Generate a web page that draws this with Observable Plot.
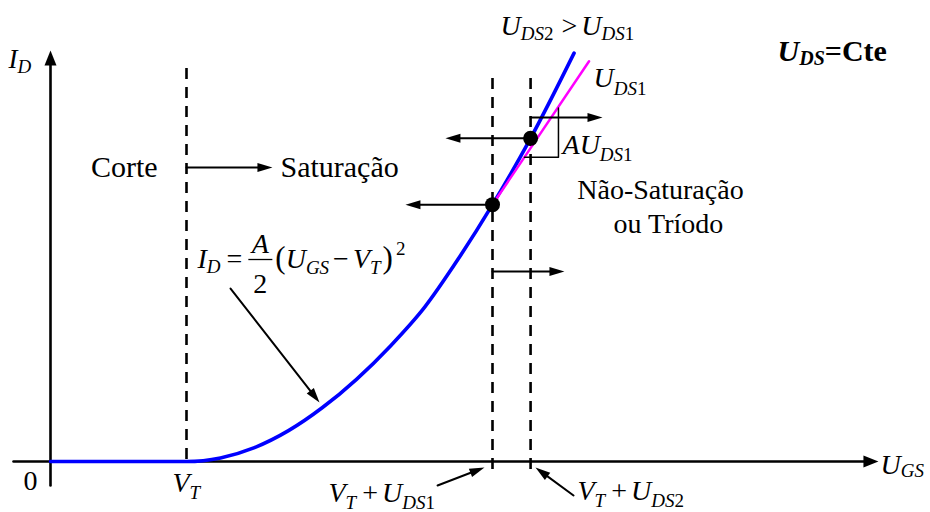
<!DOCTYPE html>
<html>
<head>
<meta charset="utf-8">
<script src="https://cdn.jsdelivr.net/npm/d3@7"></script>
<script src="https://cdn.jsdelivr.net/npm/@observablehq/plot@0.6"></script>
<style>
  html, body { margin: 0; padding: 0; background: #fff; }
</style>
</head>
<body>
<div id="chart"></div>
<script>
// Transfer characteristic of an enhancement MOSFET: I_D as a function of U_GS
// for a constant U_DS. Units are arbitrary (U_GS in multiples of V_T).

// Saturation parabola, continued by the triode line of U_DS2
const curveU = [0, 1.0, 1.25, 1.5, 1.75, 2.0, 2.25, 2.5, 2.75, 3.0, 3.25, 3.53, 3.85];
const curveI = [0, 0, 0.07, 0.27, 0.6, 1.05, 1.6, 2.25, 3.0, 3.95, 5.0, 6.29, 7.95];
// Triode line for U_DS1
const triodeU = [3.25, 3.96];
const triodeI = [5.0, 7.79];
// Saturation / triode boundary points
const pointU = [3.25, 3.53];
const pointI = [5.0, 6.29];
// Region boundaries on the U_GS axis: V_T, V_T+U_DS1, V_T+U_DS2
const boundaryU = [1.0, 3.25, 3.53];
const boundaryTop = [7.65, 7.455, 7.455];
const boundaryBottom = [0, -0.175, -0.175];
// Region names
const regionNames = ["Corte", "Saturação", "Não-Saturação", "ou Tríodo"];

const FONT = '"Liberation Serif", "Times New Roman", Times, serif';
const M = 28, S = 19;

const xScale = {domain: [0, 6], range: [50, 866]};
const yScale = {domain: [0, 8], range: [461, 50]};
let px, py, ix, iy;
try {
  const sx = Plot.scale({x: xScale}), sy = Plot.scale({y: yScale});
  px = v => sx.apply(v); py = v => sy.apply(v);
  ix = v => sx.invert(v); iy = v => sy.invert(v);
} catch (e) {
  const sx = d3.scaleLinear(xScale.domain, xScale.range), sy = d3.scaleLinear(yScale.domain, yScale.range);
  px = sx; py = sy; ix = sx.invert; iy = sy.invert;
}

// Filled arrowheads with the tip at the origin, pointing right
const headBig = {draw(c) { c.moveTo(0, 0); c.lineTo(-15, -6); c.lineTo(-15, 6); c.closePath(); }};
const headSmall = {draw(c) { c.moveTo(0, 0); c.lineTo(-15, -4.5); c.lineTo(-15, 4.5); c.closePath(); }};

const axisArrows = [
  {x1: -0.272, y1: 0, x2: 6.088, y2: 0},
  {x1: 0, y1: -0.467, x2: 0, y2: 8.0}
];
const noteArrows = [
  {x1: 1.0, y1: 5.723, x2: 1.632, y2: 5.723},
  {x1: 3.25, y1: 5.0, x2: 2.61, y2: 5.0},
  {x1: 3.53, y1: 6.29, x2: 2.904, y2: 6.29},
  {x1: 3.53, y1: 6.696, x2: 4.059, y2: 6.696},
  {x1: 3.25, y1: 3.698, x2: 3.779, y2: 3.698},
  {x1: 1.324, y1: 3.367, x2: 1.978, y2: 1.148},
  {x1: 2.846, y1: -0.467, x2: 3.191, y2: -0.117},
  {x1: 3.846, y1: -0.662, x2: 3.566, y2: -0.117}
];
const angle = d => Math.atan2(py(d.y2) - py(d.y1), px(d.x2) - px(d.x1)) * 180 / Math.PI;

function arrowMarks(data, head, width) {
  return [
    Plot.arrow(data, {x1: "x1", y1: "y1", x2: "x2", y2: "y2", headLength: 0, insetEnd: 12,
      stroke: "black", strokeWidth: width}),
    Plot.dot(data, {x: "x2", y: "y2", symbol: head, r: 5, rotate: angle, fill: "black", stroke: "none"})
  ];
}

// Text measurement for laying out sub- and superscripts
const ctx = document.createElement("canvas").getContext("2d");
function measure(t, size, italic, bold) {
  ctx.font = `${italic ? "italic " : ""}${bold ? "bold " : ""}${size}px ${FONT}`;
  return ctx.measureText(t).width;
}
const it = (t, o = {}) => ({t, italic: true, size: M, ...o});
const rm = (t, o = {}) => ({t, size: M, ...o});
const sub = (t, o = {}) => ({t, italic: true, size: S, dy: 7, ...o});
const sup = (t, o = {}) => ({t, size: S, dy: -13, ...o});

function mathRow(x0, y0, parts) {
  const marks = [];
  let dx = 0;
  const base = {x: () => x0, y: () => y0, text: d => d, lineAnchor: "bottom", fontFamily: FONT, fill: "black"};
  for (const p of parts) {
    dx += p.pre ?? 0;
    if (p.frac) {
      const w = p.width;
      marks.push(Plot.text([p.frac[0]], {...base, dx: dx + w / 2, dy: -15, textAnchor: "middle", fontSize: M, fontStyle: "italic"}));
      marks.push(Plot.text([p.frac[1]], {...base, dx: dx + w / 2, dy: 25, textAnchor: "middle", fontSize: M}));
      const xa = ix(px(x0) + dx), xb = ix(px(x0) + dx + w), yb = iy(py(y0) - 8);
      marks.push(Plot.link([0], {x1: () => xa, x2: () => xb, y1: () => yb, y2: () => yb, stroke: "black", strokeWidth: 1.3}));
      dx += w + (p.post ?? 0);
      continue;
    }
    marks.push(Plot.text([p.t], {...base, dx, dy: p.dy ?? 0, textAnchor: "start", fontSize: p.size,
      fontStyle: p.italic ? "italic" : "normal", fontWeight: p.bold ? "bold" : "normal"}));
    dx += measure(p.t, p.size, p.italic, p.bold) + (p.post ?? 0);
  }
  return marks;
}

const blue = curveU.map((u, i) => ({u, i: curveI[i]}));
const magenta = triodeU.map((u, i) => ({u, i: triodeI[i]}));
const points = pointU.map((u, i) => ({u, i: pointI[i]}));
const bounds = boundaryU.map((u, i) => ({u, top: boundaryTop[i], bottom: boundaryBottom[i]}));
const slope = [{u: 3.485, i: 5.92}, {u: 3.735, i: 5.92}, {u: 3.735, i: 6.88}];

const plainText = (t, x, y, anchor, size = M) => Plot.text([t], {x: () => x, y: () => y, text: d => d,
  textAnchor: anchor, lineAnchor: "bottom", fontFamily: FONT, fontSize: size, fill: "black"});

const chart = Plot.plot({
  width: 930,
  height: 512,
  x: {...xScale, axis: null},
  y: {...yScale, axis: null},
  style: {background: "white", overflow: "visible"},
  marks: [
    // region boundaries
    Plot.ruleX(bounds, {x: "u", y1: "top", y2: "bottom", stroke: "black", strokeWidth: 2.6, strokeDasharray: "11,8"}),
    // axes
    ...arrowMarks(axisArrows, headBig, 2.6),
    // characteristic curves
    Plot.line(blue, {x: "u", y: "i", stroke: "#0000ff", strokeWidth: 3.6, curve: "monotone-x"}),
    Plot.line(magenta, {x: "u", y: "i", stroke: "#ff00ff", strokeWidth: 2.5}),
    Plot.line(slope, {x: "u", y: "i", stroke: "black", strokeWidth: 1.5}),
    // annotation arrows
    ...arrowMarks(noteArrows, headSmall, 2),
    Plot.dot(points, {x: "u", y: "i", r: 7.5, fill: "black"}),
    // region labels
    plainText(regionNames[0], 0.787, 5.547, "end", 30),
    plainText(regionNames[1], 1.691, 5.547, "start", 30),
    plainText(regionNames[2], 4.485, 5.119, "middle"),
    plainText(regionNames[3], 4.544, 4.438, "middle"),
    plainText("0", -0.147, -0.564, "middle"),
    // axis titles
    ...mathRow(-0.309, 7.65, [it("I", {size: 27}), sub("D", {dy: 5})]),
    ...mathRow(6.103, -0.253, [it("U"), sub("GS", {dy: 3})]),
    // boundary labels
    ...mathRow(0.897, -0.603, [it("V"), sub("T")]),
    ...mathRow(2.044, -0.798, [it("V"), sub("T", {post: 6}), rm("+", {post: 4}), it("U"), sub("DS"), sub("1", {italic: false})]),
    ...mathRow(3.875, -0.759, [it("V"), sub("T", {post: 6}), rm("+", {post: 4}), it("U"), sub("DS"), sub("2", {italic: false})]),
    // curve labels
    ...mathRow(3.309, 8.292, [it("U"), sub("DS", {dy: 5}), sub("2", {italic: false, dy: 5, post: 8}), rm(">", {post: 4}), it("U"), sub("DS", {dy: 5}), sub("1", {italic: false, dy: 5})]),
    ...mathRow(3.993, 7.28, [it("U"), sub("DS", {dy: 8}), sub("1", {italic: false, dy: 8})]),
    ...mathRow(3.765, 5.995, [it("A"), it("U"), sub("DS", {dy: 7}), sub("1", {italic: false, dy: 7})]),
    // saturation law
    ...mathRow(1.081, 3.776, [
      it("I"), sub("D", {dy: 5, post: 6}), rm("=", {post: 6}),
      {frac: ["A", "2"], width: 24, post: 3},
      rm("(", {size: 31}), it("U"), sub("GS", {dy: 6, post: 4}), rm("−", {post: 4}),
      it("V"), sub("T", {dy: 6, post: 2}), rm(")", {size: 31}), sup("2", {pre: 3})
    ]),
    // operating condition
    ...mathRow(5.346, 7.805, [
      {t: "U", italic: true, bold: true, size: 30},
      {t: "DS", italic: true, bold: true, size: 20, dy: 4},
      {t: "=Cte", bold: true, size: 30}
    ])
  ]
});

document.getElementById("chart").appendChild(chart);
</script>
</body>
</html>
